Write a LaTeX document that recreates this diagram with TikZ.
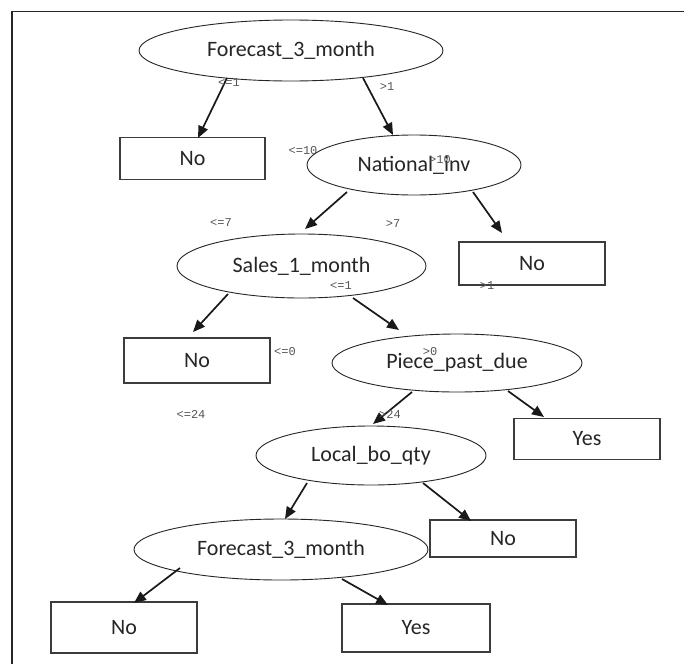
\documentclass[tikz,border=0pt]{standalone}
\usepackage{fontspec}
\setmainfont{Carlito}
\newfontfamily\lblfont{Liberation Mono}
\usetikzlibrary{shapes.geometric,arrows.meta,calc}
\definecolor{txt}{RGB}{38,38,38}
\definecolor{edge}{RGB}{60,60,60}
\definecolor{lbl}{RGB}{85,85,85}
\tikzset{
  oval/.style={ellipse,draw=black!85,line width=0.9pt,inner sep=0pt,text=txt,font=\fontsize{22}{24}\selectfont},
  leaf/.style={rectangle,draw=edge,line width=1.6pt,inner sep=0pt,text=txt,font=\fontsize{22}{24}\selectfont},
  arr/.style={line width=1.7pt,draw=black!90,-{Triangle[length=12pt,width=10pt]}},
  cond/.style={inner sep=0pt,text=lbl,font=\lblfont\fontsize{12}{12}\selectfont},
  frameline/.style={line width=1.5pt,draw=black!85}
}
\begin{document}
\begin{tikzpicture}[x=1pt,y=-1pt]
\useasboundingbox (0,0) rectangle (684,664);
\fill[white] (0,0) rectangle (684,664);
\coordinate (ftop) at (684,11.5);
\coordinate (fcorner) at (12,11.5);
\coordinate (fbot) at (12,664);
\draw[frameline] (ftop) -- (fcorner) -- (fbot);

% nodes
\node[oval,minimum width=304pt,minimum height=61pt] (e1) at (291,50.5) {Forecast\_3\_month};
\node[leaf,minimum width=145pt,minimum height=42pt] (n1) at (192.5,158.5) {No};
\node[oval,minimum width=214pt,minimum height=60pt] (e2) at (414,165) {National\_inv};
\node[leaf,minimum width=146pt,minimum height=43pt] (n2) at (532,263.5) {No};
\node[oval,minimum width=249pt,minimum height=64pt] (e3) at (301.5,266) {Sales\_1\_month};
\node[leaf,minimum width=146pt,minimum height=45pt] (n3) at (197,360.5) {No};
\node[oval,minimum width=250pt,minimum height=58pt] (e4) at (457,363) {Piece\_past\_due};
\node[leaf,minimum width=146pt,minimum height=41pt] (y1) at (587,439) {Yes};
\node[oval,minimum width=230pt,minimum height=59pt] (e5) at (371,455.5) {Local\_bo\_qty};
\node[leaf,minimum width=146pt,minimum height=37pt] (n4) at (503,538.5) {No};
\node[oval,minimum width=294pt,minimum height=61pt] (e6) at (281,549.5) {Forecast\_3\_month};
\node[leaf,minimum width=146pt,minimum height=51pt] (n5) at (124,627.5) {No};
\node[leaf,minimum width=148pt,minimum height=48pt] (y2) at (416,628) {Yes};

% connectors
\draw[arr] ($(e1)+(-64,27.5)$) -- ($(n1)+(5.5,-20.5)$);
\draw[arr] ($(e1)+(72,27.5)$) -- ($(e2)+(-21,-30)$);
\draw[arr] ($(e2)+(-67,27)$) -- ($(e3)+(3.5,-37)$);
\draw[arr] ($(e2)+(59,27)$) -- ($(n2)+(-30,-30.5)$);
\draw[arr] ($(e3)+(-73.5,28)$) -- ($(n3)+(-4,-28.5)$);
\draw[arr] ($(e3)+(51.5,32)$) -- ($(e4)+(-58,-33)$);
\draw[arr] ($(e4)+(-45,29)$) -- ($(e5)+(2,-31.5)$);
\draw[arr] ($(e4)+(51,28)$) -- ($(y1)+(-43,-22)$);
\draw[arr] ($(e5)+(-64,27.5)$) -- ($(e6)+(4,-30.5)$);
\draw[arr] ($(e5)+(52,27.5)$) -- ($(n4)+(-32,-17.5)$);
\draw[arr] ($(e6)+(-101,18.5)$) -- ($(n5)+(10,-24.5)$);
\draw[arr] ($(e6)+(61,29.5)$) -- ($(y2)+(-28,-23)$);

% condition labels
\node[cond] (c1) at (229,83) {<=1};
\node[cond] (c2) at (387,87) {>1};
\node[cond] (c3) at (303,151) {<=10};
\node[cond] (c4) at (440,160) {>10};
\node[cond] (c5) at (221,223) {<=7};
\node[cond] (c6) at (393,224) {>7};
\node[cond] (c7) at (341,286) {<=1};
\node[cond] (c8) at (487,286) {>1};
\node[cond] (c9) at (285,352) {<=0};
\node[cond] (c10) at (430,352) {>0};
\node[cond] (c11) at (191,414) {<=24};
\node[cond] (c12) at (390,414) {>24};
\end{tikzpicture}
\end{document}
